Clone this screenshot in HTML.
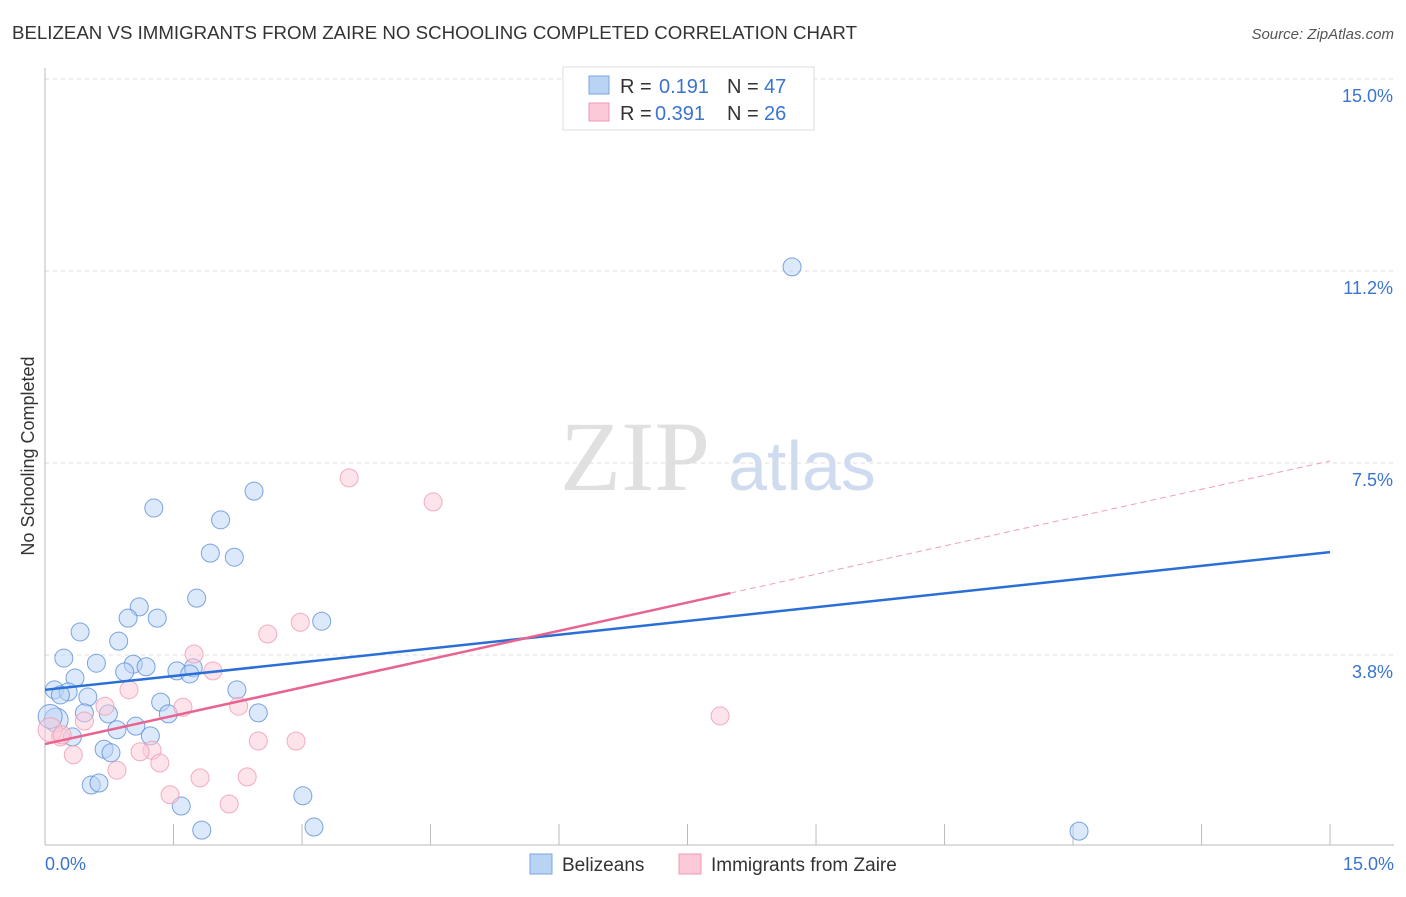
<!DOCTYPE html>
<html><head><meta charset="utf-8"><style>
body{margin:0;background:#fff;font-family:"Liberation Sans",sans-serif;}
svg text{font-family:"Liberation Sans",sans-serif;}
</style></head><body>
<svg id="chart" width="1406" height="892" xmlns="http://www.w3.org/2000/svg">
<text x="12" y="39" font-size="18" fill="#333" textLength="845" lengthAdjust="spacingAndGlyphs">BELIZEAN VS IMMIGRANTS FROM ZAIRE NO SCHOOLING COMPLETED CORRELATION CHART</text>
<text x="1394" y="39" font-size="15" fill="#555" text-anchor="end" font-style="italic">Source: ZipAtlas.com</text>
<text transform="translate(34,456) rotate(-90)" font-size="18" fill="#333" text-anchor="middle">No Schooling Completed</text>
<g>
<text x="635" y="490" font-size="100" fill="#e0e0e0" text-anchor="middle" style="font-family:'Liberation Serif',serif">ZIP</text>
<text x="802" y="490" font-size="70" fill="#cfdcf0" text-anchor="middle">atlas</text>
</g>
<g id="grid"></g><g id="axes"></g><g id="pts"></g><g id="trends"></g>
<g>
<rect x="563" y="67" width="251" height="63" fill="#fff" stroke="#ddd"/>
<rect x="589" y="76" width="20" height="18" fill="#b9d3f5" stroke="#7aa6e0"/>
<rect x="589" y="103" width="20" height="18" fill="#fbc9d7" stroke="#ef9ab3"/>
<text x="620" y="93" font-size="20" fill="#333">R = </text><text x="659" y="93" font-size="20" fill="#3a74d0">0.191</text>
<text x="727" y="93" font-size="20" fill="#333">N = </text><text x="764" y="93" font-size="20" fill="#3a74d0">47</text>
<text x="620" y="120" font-size="20" fill="#333">R = </text><text x="655" y="120" font-size="20" fill="#3a74d0">0.391</text>
<text x="727" y="120" font-size="20" fill="#333">N = </text><text x="764" y="120" font-size="20" fill="#3a74d0">26</text>
</g>
<g>
<rect x="530" y="854" width="22" height="20" fill="#b9d3f5" stroke="#7aa6e0"/>
<text x="562" y="871" font-size="19" fill="#333">Belizeans</text>
<rect x="679" y="854" width="22" height="20" fill="#fbc9d7" stroke="#ef9ab3"/>
<text x="711" y="871" font-size="19" fill="#333">Immigrants from Zaire</text>
</g>
</svg>
<script>
const yTicks=[3.75,7.5,11.25,15];
const yTickLabels=["3.8%","7.5%","11.2%","15.0%"];
const xTickLabels=["0.0%","15.0%"];
const blueX=[8.72,2.44,1.27,2.05,1.93,2.21,1.77,1.10,1.31,3.23,0.97,0.41,0.86,0.22,0.60,1.03,1.18,0.93,1.54,1.73,1.69,0.35,0.11,0.27,0.18,0.50,2.24,1.35,0.46,0.74,2.49,1.44,0.13,0.84,1.06,0.32,1.23,0.69,0.77,3.01,1.59,0.54,0.63,1.83,3.14,12.07,0.06];
const blueY=[11.33,6.95,6.62,6.39,5.74,5.66,4.86,4.69,4.47,4.41,4.47,4.20,4.02,3.69,3.59,3.57,3.52,3.42,3.44,3.50,3.38,3.30,3.07,3.03,2.97,2.93,3.07,2.83,2.62,2.60,2.62,2.60,2.48,2.29,2.36,2.15,2.17,1.91,1.84,1.00,0.80,1.21,1.25,0.33,0.39,0.31,2.55];
const pinkX=[3.55,4.53,2.98,2.60,1.74,1.96,0.98,0.70,1.61,2.26,0.46,7.88,0.18,2.49,2.93,1.25,1.11,0.33,1.34,0.84,1.81,2.36,1.46,2.15,0.06,0.20];
const pinkY=[7.21,6.74,4.39,4.16,3.77,3.44,3.07,2.75,2.73,2.75,2.46,2.56,2.15,2.07,2.07,1.89,1.86,1.80,1.64,1.50,1.35,1.37,1.02,0.84,2.29,2.19];
const blueTrend=[3.07,5.76];
const pinkTrend=[2.01,7.54];
const pinkSolidEnd=8.0;
const NS="http://www.w3.org/2000/svg";
const sx=v=>45+v*85.67, sy=v=>847-v*51.2;
function mk(tag,attrs,parent){const e=document.createElementNS(NS,tag);for(const k in attrs)e.setAttribute(k,attrs[k]);parent.appendChild(e);return e;}
const grid=document.getElementById('grid'),axes=document.getElementById('axes'),pts=document.getElementById('pts'),tr=document.getElementById('trends');
yTicks.forEach((t,i)=>{
 const l=mk('line',{x1:45,x2:1394,y1:sy(t),y2:sy(t),stroke:'#ddd','stroke-dasharray':'4,4'},grid);
 
 
 const tx=mk('text',{x:1393,y:sy(t)+23,'font-size':18,fill:'#3a74d0','text-anchor':'end'},grid);
 tx.textContent=yTickLabels[i];
 
 
});
let a=mk('line',{x1:45,x2:45,y1:68,y2:845,stroke:'#bbb'},axes);


a=mk('line',{x1:45,x2:1394,y1:845,y2:845,stroke:'#bbb'},axes);


for(let i=0;i<=10;i++){
 const t=mk('line',{x1:sx(i*1.5),x2:sx(i*1.5),y1:824,y2:845,stroke:'#bbb'},axes);
 
 
}
[[0,'start',xTickLabels[0]],[15,'end',xTickLabels[1]]].forEach(([v,anc,lab])=>{
 const t=mk('text',{x:v==0?45:1394,y:870,'font-size':18,fill:'#3a74d0','text-anchor':anc},axes);
 t.textContent=lab;
 
 
});
function dots(X,Y,fill,stroke,name){
 X.forEach((x,i)=>{
  const big=(x<0.15&&Y[i]>2.2&&Y[i]<2.6);
  const c=mk('circle',{cx:sx(x),cy:sy(Y[i]),r:big?12:9,fill:fill,'fill-opacity':0.5,stroke:stroke,'stroke-opacity':0.8,'stroke-width':1},pts);
  
  
 });
}
dots(blueX,blueY,'#b9d3f5','#5b8fd9','belizean-point');
dots(pinkX,pinkY,'#fbc9d7','#ef9ab3','zaire-point');
let l=mk('line',{x1:sx(0),y1:sy(blueTrend[0]),x2:sx(15),y2:sy(blueTrend[1]),stroke:'#2a6fd6','stroke-width':2.5},tr);


const py=v=>pinkTrend[0]+(pinkTrend[1]-pinkTrend[0])*v/15;
l=mk('line',{x1:sx(0),y1:sy(pinkTrend[0]),x2:sx(pinkSolidEnd),y2:sy(py(pinkSolidEnd)),stroke:'#e8648f','stroke-width':2.5},tr);


l=mk('line',{x1:sx(pinkSolidEnd),y1:sy(py(pinkSolidEnd)),x2:sx(15),y2:sy(pinkTrend[1]),stroke:'#eea0b8','stroke-width':1,'stroke-dasharray':'6,4'},tr);


</script>
</body></html>
